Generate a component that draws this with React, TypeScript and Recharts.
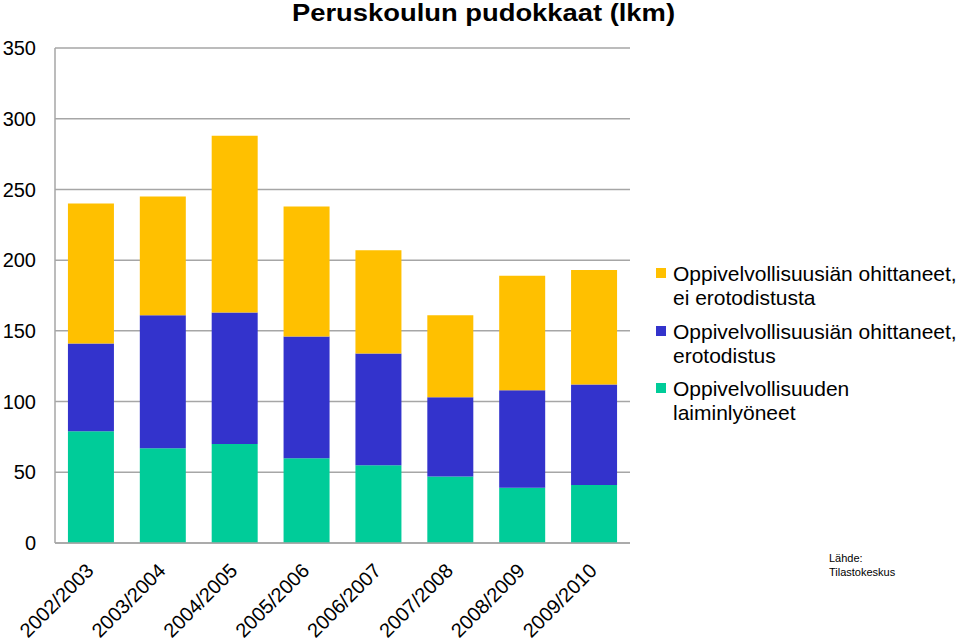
import React from "react";
import { BarChart, Bar, XAxis, YAxis, CartesianGrid, Legend } from "recharts";

const years = ["2002/2003", "2003/2004", "2004/2005", "2005/2006", "2006/2007", "2007/2008", "2008/2009", "2009/2010"];
const laiminlyoneet = [79, 67, 70, 60, 55, 47, 39, 41];
const erotodistus = [62, 94, 93, 86, 79, 56, 69, 71];
const eiErotodistusta = [99, 84, 125, 92, 73, 58, 81, 81];
const yTicks = [0, 50, 100, 150, 200, 250, 300, 350];

const title = "Peruskoulun pudokkaat (lkm)";
const sourceLines = ["Lähde:", "Tilastokeskus"];

const series = [
  { key: "laiminlyoneet", lines: ["Oppivelvollisuuden", "laiminlyöneet"], color: "#00CC99" },
  { key: "erotodistus", lines: ["Oppivelvollisuusiän ohittaneet,", "erotodistus"], color: "#3333CC" },
  { key: "eiErotodistusta", lines: ["Oppivelvollisuusiän ohittaneet,", "ei erotodistusta"], color: "#FFC000" },
];
const legendOrder = ["eiErotodistusta", "erotodistus", "laiminlyoneet"];

const data = years.map((y, i) => ({
  year: y,
  laiminlyoneet: laiminlyoneet[i],
  erotodistus: erotodistus[i],
  eiErotodistusta: eiErotodistusta[i],
}));

const FONT = "'Liberation Sans', Arial, sans-serif";
const GRID = "#a6a6a6";

const YTick = (props: any) => {
  const { x, y, payload } = props;
  return (
    <text x={x} y={y} dy="0.36em" textAnchor="end" fontSize={20} fontFamily={FONT} fill="#000">
      {payload.value}
    </text>
  );
};

const XTick = (props: any) => {
  const { x, y, payload } = props;
  return (
    <g transform={`translate(${x + 4},${y + 21})`}>
      <text x={0} y={0} textAnchor="end" transform="rotate(-45)" fontSize={20} fontFamily={FONT} fill="#000">
        {payload.value}
      </text>
    </g>
  );
};

const LegendContent = () => (
  <div style={{ fontFamily: FONT, fontSize: 21, lineHeight: "24px", color: "#000", textAlign: "left" }}>
    {legendOrder.map((k) => {
      const s = series.find((d) => d.key === k)!;
      return (
        <div key={k} style={{ position: "relative", height: 57.5, paddingLeft: 17, whiteSpace: "nowrap" }}>
          <span
            style={{ position: "absolute", left: 0, top: 6, width: 10, height: 10, background: s.color }}
          />
          {s.lines.map((l, j) => (
            <div key={j}>{l}</div>
          ))}
        </div>
      );
    })}
  </div>
);

export default function App() {
  return (
    <div style={{ position: "absolute", left: 0, top: 0, width: 960, height: 643, background: "#fff", overflow: "hidden" }}>
      <div
        style={{
          position: "absolute",
          left: 0,
          top: 1,
          width: 967,
          textAlign: "center",
          fontFamily: FONT,
          fontWeight: "bold",
          fontSize: 23.5,
          lineHeight: "24px",
          color: "#000",
          whiteSpace: "nowrap",
          transform: "scaleX(1.164)",
          transformOrigin: "483.5px 0",
        }}
      >
        {title}
      </div>
      <BarChart
        width={960}
        height={643}
        data={data}
        margin={{ top: 48, right: 330, bottom: 0, left: 0 }}
        barCategoryGap="18%"
      >
        <CartesianGrid horizontal={true} vertical={false} stroke={GRID} strokeWidth={1.5} />
        <XAxis
          dataKey="year"
          interval={0}
          tickLine={false}
          axisLine={{ stroke: GRID, strokeWidth: 1.5 }}
          tick={<XTick />}
          height={100}
        />
        <YAxis
          domain={[0, 350]}
          ticks={yTicks}
          width={55}
          tickLine={false}
          tickSize={0}
          tickMargin={19}
          axisLine={{ stroke: GRID, strokeWidth: 1.5 }}
          tick={<YTick />}
          interval={0}
        />
        <Legend
          layout="horizontal"
          align="center"
          verticalAlign="middle"
          content={<LegendContent />}
          wrapperStyle={{ position: "absolute", left: 656, top: 262, width: 304 }}
        />
        {series.map((s) => (
          <Bar key={s.key} dataKey={s.key} stackId="a" fill={s.color} isAnimationActive={false} />
        ))}
      </BarChart>
      <div
        style={{
          position: "absolute",
          left: 829,
          top: 551,
          fontFamily: FONT,
          fontSize: 11,
          lineHeight: "14px",
          color: "#000",
        }}
      >
        {sourceLines.map((l, i) => (
          <div key={i}>{l}</div>
        ))}
      </div>
    </div>
  );
}
